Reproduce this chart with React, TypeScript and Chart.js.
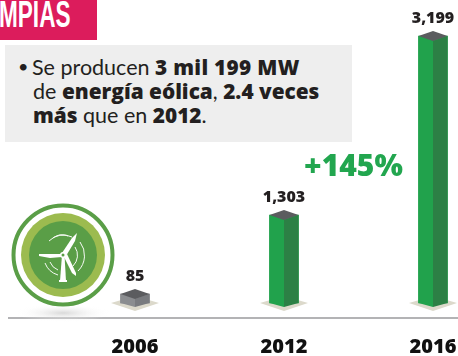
import React, { useEffect, useRef } from "react";
import { Chart, registerables, LinearScale } from "chart.js";

const categories = ["2006", "2012", "2016"];
const capacityMW = [85, 1303, 3199];
const frontColors = ["#8b8d90", "#21a24c", "#21a24c"];
const sideColors = ["#797b7f", "#2c8045", "#2c8045"];
const growthLabel = "+145%";
const growthColor = "#22a64f";

// The source graphic is not drawn to a linear scale: bar height grows as a power of the value.
class PowerScale extends LinearScale {
  static id = "powerY";
  static defaults = LinearScale.defaults;
  getPixelForValue(v: number) {
    const self = this as any;
    return self.getPixelForDecimal(Math.pow(Math.max(v, 0) / self.max, 1.236));
  }
  getValueForPixel(p: number) {
    const self = this as any;
    return self.max * Math.pow(self.getDecimalForPixel(p), 1 / 1.236);
  }
}

Chart.register(...registerables, PowerScale as any);

const FONT = "Lato, 'Noto Sans', sans-serif";
const HEAVY = "'Open Sans', Lato, sans-serif";
const SKEW = 5;

const prisms = {
  id: "prisms",
  beforeDatasetsDraw(chart: any) {
    const { ctx } = chart;
    const meta = chart.getDatasetMeta(0);
    ctx.save();
    ctx.fillStyle = "#dcd9cb";
    meta.data.forEach((el: any) => {
      const { x, base } = el.getProps(["x", "base"], true);
      ctx.beginPath();
      ctx.moveTo(x - 24, base);
      ctx.lineTo(x, base - 7);
      ctx.lineTo(x + 24, base);
      ctx.lineTo(x, base + 8);
      ctx.closePath();
      ctx.fill();
    });
    ctx.restore();
  },
  afterDatasetsDraw(chart: any) {
    const { ctx, scales } = chart;
    const meta = chart.getDatasetMeta(0);
    ctx.save();
    meta.data.forEach((el: any, i: number) => {
      const { x, y, base, width } = el.getProps(["x", "y", "base", "width"], true);
      const h = width / 2;
      ctx.fillStyle = frontColors[i];
      ctx.beginPath();
      ctx.moveTo(x - h, y);
      ctx.lineTo(x, y + SKEW);
      ctx.lineTo(x, base + 4);
      ctx.lineTo(x - h, base);
      ctx.closePath();
      ctx.fill();
      ctx.fillStyle = sideColors[i];
      ctx.beginPath();
      ctx.moveTo(x + h, y);
      ctx.lineTo(x, y + SKEW);
      ctx.lineTo(x, base + 4);
      ctx.lineTo(x + h, base);
      ctx.closePath();
      ctx.fill();
      ctx.fillStyle = "#5b5c5f";
      ctx.beginPath();
      ctx.moveTo(x - h, y);
      ctx.lineTo(x, y - SKEW);
      ctx.lineTo(x + h, y);
      ctx.lineTo(x, y + SKEW);
      ctx.closePath();
      ctx.fill();

      ctx.fillStyle = "#231f20";
      ctx.font = `800 16px ${HEAVY}`;
      ctx.textAlign = "center";
      ctx.textBaseline = "middle";
      ctx.fillText(capacityMW[i].toLocaleString("en-US"), x, y - 18);
    });

    // ground line
    ctx.strokeStyle = "#9a9a9c";
    ctx.lineWidth = 1.5;
    ctx.beginPath();
    ctx.moveTo(8, scales.y.bottom + 15);
    ctx.lineTo(chart.width, scales.y.bottom + 15);
    ctx.stroke();

    // growth annotation
    ctx.fillStyle = growthColor;
    ctx.font = `800 30px ${HEAVY}`;
    ctx.textAlign = "center";
    ctx.textBaseline = "middle";
    ctx.fillText(growthLabel, 353.5, 167);
    ctx.restore();
  },
};

function WindIcon() {
  return (
    <svg width={130} height={130} viewBox="0 0 130 130" style={{ position: "absolute", left: 0, top: 195 }}>
      <defs>
        <radialGradient id="sh">
          <stop offset="0%" stopColor="#cfcfcf" stopOpacity="0.8" />
          <stop offset="100%" stopColor="#ffffff" stopOpacity="0" />
        </radialGradient>
      </defs>
      <ellipse cx="63" cy="118" rx="48" ry="9" fill="url(#sh)" />
      <circle cx="63" cy="60" r="49.5" fill="#fff" stroke="#5a9e47" strokeWidth="4" />
      <circle cx="63" cy="60" r="42" fill="#9cbb4f" />
      <circle cx="63" cy="60" r="34" fill="#5a9e47" />
      <g fill="none" stroke="#fff" strokeWidth="1" opacity="0.95">
        <path d="M49 46 A20 20 0 0 1 72 42" />
        <path d="M53 43 A15 15 0 0 1 68 41" />
        <path d="M80 47 A22 22 0 0 1 78 76" />
        <path d="M75 52 A15 15 0 0 1 73 71" />
        <path d="M45 68 A20 20 0 0 0 58 80" />
        <path d="M50 67 A14 14 0 0 0 58 75" />
      </g>
      <g fill="#fff">
        <path d="M62 60 L64.5 60 L66 86 L60 86 Z" />
        <rect x="59" y="85" width="8" height="2" />
        <path d="M62 58 L72 43 L77 38 L75 46 L66 61 Z" />
        <path d="M61 59 L39 59 L39 61 L50 63 L62 62 Z" />
        <path d="M64 62 L67 59 L76 78 L76 81 L72 78 Z" />
        <circle cx="63" cy="60" r="3" />
      </g>
      <circle cx="63" cy="60" r="1.5" fill="#5a9e47" />
    </svg>
  );
}

export default function App() {
  const ref = useRef<HTMLCanvasElement>(null);
  useEffect(() => {
    const chart = new Chart(ref.current as HTMLCanvasElement, {
      type: "bar",
      data: {
        labels: categories,
        datasets: [
          {
            data: capacityMW,
            backgroundColor: frontColors,
            barThickness: 29,
            minBarLength: 9,
            clip: false as any,
          },
        ],
      },
      options: {
        responsive: false,
        animation: false,
        layout: { padding: { left: 135, right: 25, top: 36, bottom: 0 } },
        plugins: { legend: { display: false }, tooltip: { enabled: false } },
        scales: {
          x: {
            offset: false,
            grid: { display: false },
            border: { display: false },
            afterFit(scale: any) {
              scale.height = 53;
              scale.paddingLeft = 0;
              scale.paddingRight = 0;
            },
            ticks: {
              autoSkip: false,
              maxRotation: 0,
              padding: 24,
              color: "#111",
              font: { family: HEAVY, size: 20, weight: "800" as any },
            },
          },
          y: { type: "powerY" as any, min: 0, max: 3199, display: false },
        },
      },
      plugins: [prisms],
    } as any);
    return () => chart.destroy();
  }, []);

  const b = { fontFamily: HEAVY, fontWeight: 800, fontSize: 20.8 };
  return (
    <div style={{ position: "absolute", left: 0, top: 0, width: 458, height: 356, overflow: "hidden", background: "#fff" }}>
      <canvas ref={ref} width={458} height={356} style={{ display: "block" }} />
      <div style={{ position: "absolute", left: 0, top: 0, width: 97, height: 40, background: "#dc1c5c", overflow: "hidden" }}>
        <span
          style={{
            position: "absolute",
            left: -1,
            top: -5,
            color: "#fff",
            font: "bold 37px 'Liberation Sans Narrow', sans-serif",
            lineHeight: "40px",
            whiteSpace: "nowrap",
            transform: "scaleX(0.61)",
            transformOrigin: "left top",
          }}
        >
          MPIAS
        </span>
      </div>
      <div
        style={{
          position: "absolute",
          left: 5,
          top: 45,
          width: 347,
          height: 97,
          background: "#eeeeee",
          font: `400 21.5px/24px ${FONT}`,
          color: "#231f20",
        }}
      >
        <div style={{ position: "absolute", left: 13, top: 9, fontSize: 18 }}>•</div>
        <div style={{ position: "absolute", left: 27, top: 10, whiteSpace: "nowrap" }}>Se producen <b style={{ ...b, letterSpacing: 0.3 }}>3 mil 199 MW</b></div>
        <div style={{ position: "absolute", left: 28, top: 34, whiteSpace: "nowrap" }}>de <b style={b}>energía eólica</b>, <b style={b}>2.4 veces</b></div>
        <div style={{ position: "absolute", left: 28, top: 58, whiteSpace: "nowrap" }}><b style={b}>más</b> que en <b style={b}>2012</b>.</div>
      </div>
      <WindIcon />
    </div>
  );
}
